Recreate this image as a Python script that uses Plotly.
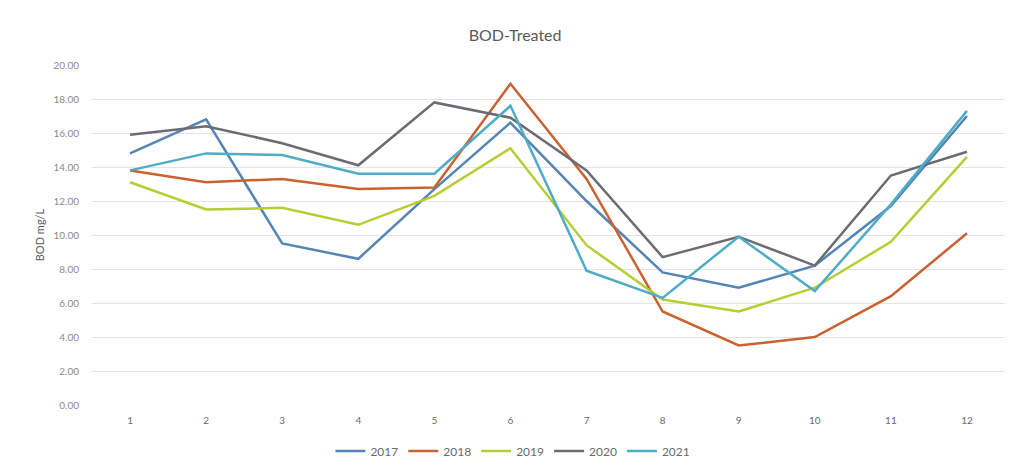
import plotly.graph_objects as go

months = list(range(1, 13))
years = ["2017", "2018", "2019", "2020", "2021"]

bod_2017 = [14.8, 16.8, 9.5, 8.6, 12.7, 16.6, 12.0, 7.8, 6.9, 8.2, 11.7, 17.0]
bod_2018 = [13.8, 13.1, 13.3, 12.7, 12.8, 18.9, 13.3, 5.5, 3.5, 4.0, 6.4, 10.1]
bod_2019 = [13.1, 11.5, 11.6, 10.6, 12.3, 15.1, 9.4, 6.2, 5.5, 6.9, 9.6, 14.6]
bod_2020 = [15.9, 16.4, 15.4, 14.1, 17.8, 16.9, 13.8, 8.7, 9.9, 8.2, 13.5, 14.9]
bod_2021 = [13.8, 14.8, 14.7, 13.6, 13.6, 17.6, 7.9, 6.3, 9.9, 6.7, 11.8, 17.3]

y_ticks = [0, 2, 4, 6, 8, 10, 12, 14, 16, 18, 20]

series = [bod_2017, bod_2018, bod_2019, bod_2020, bod_2021]
colors = ["#5585b5", "#c9622e", "#b7cd32", "#6b6b75", "#4fabc6"]

fig = go.Figure()
for name, vals, col in zip(years, series, colors):
    fig.add_trace(go.Scatter(
        x=months, y=vals, name=name, mode="lines",
        line=dict(color=col, width=2.5),
    ))

fig.update_layout(
    width=1010, height=470,
    paper_bgcolor="white", plot_bgcolor="white",
    margin=dict(l=92, r=5, t=65, b=65, autoexpand=False),
    font=dict(family="Lato, 'Open Sans', sans-serif", color="#6a6a6a", size=10),
    title=dict(text="BOD-Treated", x=0.51, xanchor="center", y=0.925, yanchor="middle",
               font=dict(size=16, color="#5a5a5a")),
    legend=dict(orientation="h", x=0.461, xanchor="center",
                y=-0.135, yanchor="middle",
                font=dict(size=12, color="#6a6a6a"), itemwidth=30, traceorder="normal"),
    showlegend=True,
)
fig.update_xaxes(range=[0.5, 12.5], tickmode="array", tickvals=months,
                 ticktext=[str(m) for m in months], showgrid=False, zeroline=False,
                 showline=False, ticks="", ticklabelstandoff=8,
                 tickfont=dict(size=10, color="#6a6a6a"))
fig.update_yaxes(range=[0, 20], tickmode="array", tickvals=y_ticks,
                 ticktext=[f"{v:.2f}" for v in y_ticks], showgrid=True,
                 gridcolor="#e4e4e4", gridwidth=1, zeroline=False, showline=False,
                 ticks="", ticklabelstandoff=12,
                 title=dict(text="BOD mg/L", font=dict(size=11, color="#5a5a5a"), standoff=6),
                 tickfont=dict(size=10, color="#8a8a8a"))

fig.write_html("out.html")
